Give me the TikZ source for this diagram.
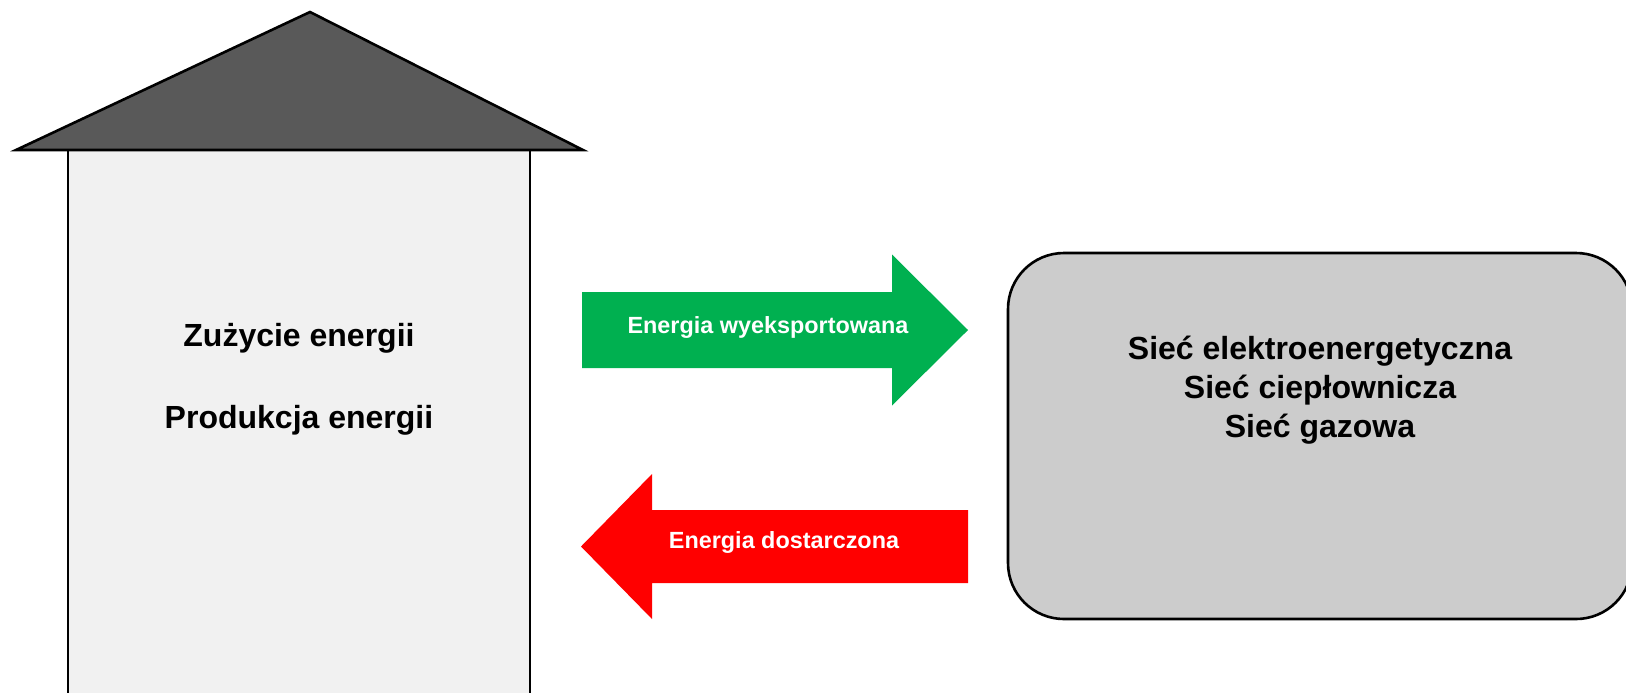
\documentclass[tikz,border=0pt]{standalone}
\usepackage{fontspec}
\setmainfont{Liberation Sans}
\usetikzlibrary{positioning}
\definecolor{roofgray}{RGB}{89,89,89}
\definecolor{wallgray}{RGB}{241,241,241}
\definecolor{netgray}{RGB}{204,204,204}
\definecolor{exportgreen}{RGB}{0,176,80}
\definecolor{importred}{RGB}{255,0,0}
\newcommand{\drawfatarrow}[7]{
    % #1 colour, #2 tail x, #3 head base x, #4 tip x, #5 middle y, #6 half body, #7 half head
    \fill[#1] (#2,#5-#6) -- (#3,#5-#6) -- (#3,#5-#7) -- (#4,#5)
        -- (#3,#5+#7) -- (#3,#5+#6) -- (#2,#5+#6) -- cycle;
}

\begin{document}
\begin{tikzpicture}[x=0.5pt, y=-0.5pt,
    house text/.style={font=\bfseries\fontsize{16}{19.5}\selectfont, text=black},
    arrow text/.style={font=\bfseries\fontsize{11.7}{14}\selectfont, text=white}]
    \useasboundingbox (0,0) rectangle (1626,692);

    % Draw the house walls and the roof
    \filldraw[fill=wallgray, draw=black, line width=1.3pt] (68,693) -- (68,150) -- (530,150) -- (530,693);
    \filldraw[fill=roofgray, draw=black, line width=1.3pt] (16,150) -- (310,12) -- (583,150) -- cycle;
    \node[house text] (use) at (299,338) {Zużycie energii};
    \node[house text] (prod) at (299,420) {Produkcja energii};

    % Draw the network box
    \filldraw[fill=netgray, draw=black, line width=1.3pt, rounded corners=28pt] (1008,253) rectangle (1632,619);
    \node[house text, align=center] (net) at (1320,390)
        {Sieć elektroenergetyczna\\Sieć ciepłownicza\\Sieć gazowa};

    % Draw the two arrows
    \drawfatarrow{exportgreen}{582}{892}{968}{330}{38}{75.5}
    \node[arrow text] (export) at (768,327) {Energia wyeksportowana};
    \drawfatarrow{importred}{968}{652}{581}{546.5}{36.5}{72.5}
    \node[arrow text] (import) at (784,542) {Energia dostarczona};
\end{tikzpicture}
\end{document}
